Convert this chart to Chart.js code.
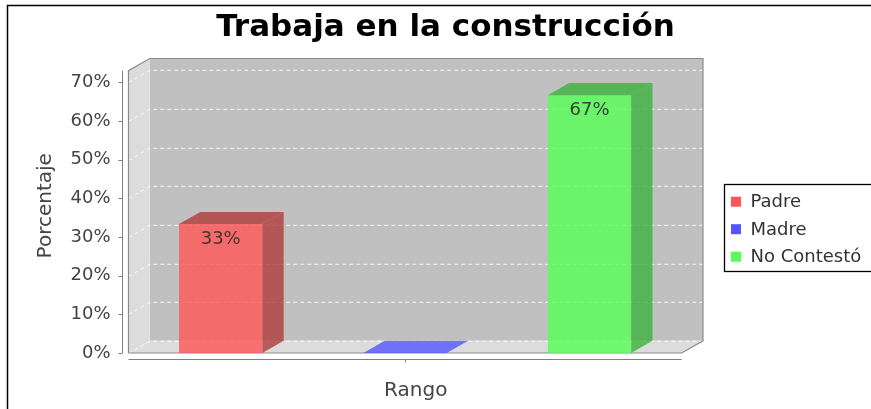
<!DOCTYPE html>
<html>
<head>
<meta charset="utf-8">
<script src="https://cdn.jsdelivr.net/npm/chart.js@4.4.1/dist/chart.umd.min.js"></script>
<style>
  html, body { margin: 0; padding: 0; background: #fff; }
  #wrap { width: 871px; height: 409px; }
</style>
</head>
<body>
<div id="wrap"><canvas id="chart" width="871" height="409"></canvas></div>
<script>
// datos del grafico
const chartTitle = 'Trabaja en la construcción';
const categories = [''];
const seriesNames = ['Padre', 'Madre', 'No Contestó'];
const seriesValues = [[33.33], [0], [66.67]];
const valueLabels = ['33%', '', '67%'];
const seriesColors = [[255, 85, 85], [85, 85, 255], [85, 255, 85]];
const yTicks = [0, 10, 20, 30, 40, 50, 60, 70];
const yTitle = 'Porcentaje';
const xTitle = 'Rango';

// profundidad del efecto 3D
const DX = 21.3;
const DY = 12.2;
const FONT = 'DejaVu Sans';

Chart.defaults.font.family = FONT;

const rgba = (c, a) => `rgba(${c[0]}, ${c[1]}, ${c[2]}, ${a})`;
const darker = c => c.map(v => Math.floor(v * 0.7));

function poly(ctx, pts, fill, stroke) {
    ctx.beginPath();
    ctx.moveTo(pts[0][0], pts[0][1]);
    for (let i = 1; i < pts.length; i++) ctx.lineTo(pts[i][0], pts[i][1]);
    ctx.closePath();
    if (fill) { ctx.fillStyle = fill; ctx.fill(); }
    if (stroke) { ctx.strokeStyle = stroke; ctx.stroke(); }
}

const plot3d = {
    id: 'plot3d',
    beforeDraw(chart) {
        const ctx = chart.ctx;
        ctx.save();
        ctx.fillStyle = '#fff';
        ctx.fillRect(0, 0, chart.width, chart.height);
        ctx.strokeStyle = '#000';
        ctx.lineWidth = 1.5;
        ctx.strokeRect(7.5, 5.5, 1000, 1000);
        ctx.restore();
    },
    beforeDatasetsDraw(chart) {
        const ctx = chart.ctx;
        const { left, right, top, bottom } = chart.chartArea;
        const y = chart.scales.y;
        ctx.save();

        // paredes
        poly(ctx, [[left + DX, top - DY], [right + DX, top - DY], [right + DX, bottom - DY], [left + DX, bottom - DY]], '#c0c0c0');
        poly(ctx, [[left, top], [left + DX, top - DY], [left + DX, bottom - DY], [left, bottom]], '#dcdcdc');
        poly(ctx, [[left, bottom], [left + DX, bottom - DY], [right + DX, bottom - DY], [right, bottom]], '#dcdcdc');

        // lineas de rejilla
        ctx.lineWidth = 1;
        ctx.setLineDash([4, 3]);
        ctx.strokeStyle = 'rgba(255,255,255,0.85)';
        yTicks.forEach(v => {
            const py = Math.round(y.getPixelForValue(v)) + 0.5;
            ctx.beginPath();
            ctx.moveTo(left, py);
            ctx.lineTo(left + DX, py - DY);
            ctx.lineTo(right + DX, py - DY);
            ctx.stroke();
        });
        ctx.setLineDash([]);

        // contorno
        ctx.strokeStyle = '#8c8c8c';
        ctx.lineWidth = 1.2;
        poly(ctx, [[left, bottom], [left, top], [left + DX, top - DY], [right + DX, top - DY], [right + DX, bottom - DY], [right, bottom]], null, '#8c8c8c');

        // eje vertical
        ctx.strokeStyle = '#808080';
        ctx.lineWidth = 1;
        const ax = Math.round(left - 7) + 0.5;
        ctx.beginPath();
        ctx.moveTo(ax, top);
        ctx.lineTo(ax, bottom);
        yTicks.forEach(v => {
            const py = Math.round(y.getPixelForValue(v)) + 0.5;
            ctx.moveTo(ax - 4, py);
            ctx.lineTo(ax, py);
        });
        // eje horizontal
        const ay = Math.round(bottom + 6) + 0.5;
        const cx = Math.round(chart.scales.x.getPixelForValue(0)) + 0.5;
        ctx.moveTo(left, ay);
        ctx.lineTo(right, ay);
        ctx.moveTo(cx, ay);
        ctx.lineTo(cx, ay + 3);
        ctx.stroke();
        ctx.restore();
    },
    afterDatasetsDraw(chart) {
        const ctx = chart.ctx;
        const { left, right, top, bottom } = chart.chartArea;
        ctx.save();

        // caras superior y lateral de las barras
        chart.data.datasets.forEach((ds, i) => {
            const meta = chart.getDatasetMeta(i);
            meta.data.forEach((bar, j) => {
                const { x, y, base, width } = bar.getProps(['x', 'y', 'base', 'width'], true);
                const x1 = x - width / 2, x2 = x + width / 2;
                const col = seriesColors[i];
                const flat = Math.abs(base - y) < 0.5;
                const dark = rgba(darker(col), 0.8);
                if (!flat) {
                    poly(ctx, [[x2, y], [x2 + DX, y - DY], [x2 + DX, base - DY], [x2, base]], dark);
                }
                poly(ctx, [[x1, y], [x1 + DX, y - DY], [x2 + DX, y - DY], [x2, y]], flat ? rgba(col, 0.8) : dark);

                const lbl = valueLabels[i];
                if (lbl && ds.data[j] > 0) {
                    ctx.font = `18px ${FONT}`;
                    ctx.fillStyle = 'rgba(40,40,40,0.85)';
                    ctx.textAlign = 'center';
                    ctx.textBaseline = 'middle';
                    ctx.fillText(lbl, x, y + 15);
                }
            });
        });

        // titulos de ejes
        ctx.fillStyle = '#444';
        ctx.font = `20px ${FONT}`;
        ctx.textAlign = 'center';
        ctx.textBaseline = 'middle';
        ctx.fillText(xTitle, (left + right + DX) / 2, bottom + 38);
        ctx.save();
        ctx.translate(46, (top - DY + bottom) / 2);
        ctx.rotate(-Math.PI / 2);
        ctx.fillText(yTitle, 0, 0);
        ctx.restore();

        // leyenda
        const lx = 724.5, ly = 184.5;
        ctx.fillStyle = '#fff';
        ctx.fillRect(lx, ly, 200, 87);
        ctx.strokeStyle = '#000';
        ctx.lineWidth = 1.3;
        ctx.strokeRect(lx, ly, 200, 87);
        ctx.font = `18px ${FONT}`;
        ctx.textAlign = 'left';
        chart.data.datasets.forEach((ds, i) => {
            const cy = 201.7 + i * 27.5;
            ctx.fillStyle = rgba(seriesColors[i], 1);
            ctx.fillRect(731, cy - 5, 10, 10);
            ctx.fillStyle = '#333';
            ctx.fillText(ds.label, 750.5, cy + 1);
        });
        ctx.restore();
    }
};

const datasets = seriesNames.map((name, i) => ({
    label: name,
    data: seriesValues[i],
    backgroundColor: rgba(seriesColors[i], 0.8),
    borderWidth: 0,
    categoryPercentage: 1,
    barPercentage: 0.452
}));

new Chart(document.getElementById('chart').getContext('2d'), {
    type: 'bar',
    data: { labels: categories, datasets },
    options: {
        responsive: false,
        animation: false,
        devicePixelRatio: 1,
        layout: { padding: { left: 20, right: 0, top: 0, bottom: 0 } },
        plugins: {
            legend: { display: false },
            tooltip: { enabled: false },
            title: {
                display: true,
                text: chartTitle,
                color: '#000',
                font: { family: FONT, size: 31, weight: 'bold' },
                padding: { top: 9, bottom: 24.5 }
            }
        },
        scales: {
            x: {
                grid: { display: false },
                border: { display: false },
                ticks: { display: false },
                afterFit(s) { s.height = 56; }
            },
            y: {
                min: 0,
                max: 73,
                grid: { display: false, drawTicks: false },
                border: { display: false },
                ticks: {
                    padding: 18,
                    color: '#444',
                    font: { family: FONT, size: 18 },
                    callback: v => v + '%'
                },
                afterBuildTicks(s) { s.ticks = yTicks.map(v => ({ value: v })); },
                afterFit(s) { s.width = 108.5; }
            },
            // reserva el espacio de la leyenda a la derecha
            side: {
                type: 'linear',
                position: 'right',
                grid: { display: false },
                border: { display: false },
                ticks: { display: false },
                afterFit(s) { s.width = 189.3; }
            }
        }
    },
    plugins: [plot3d]
});
</script>
</body>
</html>
